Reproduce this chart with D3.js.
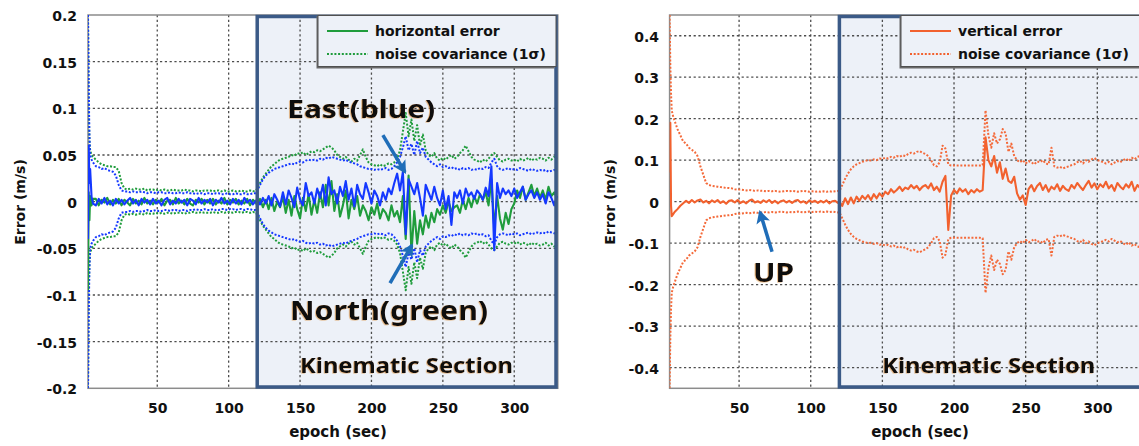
<!DOCTYPE html>
<html><head><meta charset="utf-8">
<script src="https://cdn.jsdelivr.net/npm/d3@7"></script>
<style>
body{margin:0;background:#fff;}
svg{display:block;}
.tk text{font-family:"DejaVu Sans",Verdana,sans-serif;font-weight:bold;font-size:14px;fill:#111;}
.lbl{font-family:"DejaVu Sans",Verdana,sans-serif;font-weight:bold;fill:#111;}
.ann{font-family:"Noto Sans","Open Sans",sans-serif;font-weight:bold;fill:#0d0d0d;}
</style></head><body>
<svg id="c" width="1139" height="446"></svg>
<script>
// ---------- data ----------
const epochs = [1.5,2,2.5,3,4,5,
 7,9,11,13,15,17,19,21,23,25,
 27,29,31,33,35,37,39,41,43,45,
 47,49,51,53,55,57,59,61,63,65,
 67,69,71,73,75,77,79,81,83,85,
 87,89,91,93,95,97,99,101,103,105,
 107,109,111,113,115,117,119,
 120,122,124,126,128,130,132,134,136,138,
 140,142,144,146,148,150,152,154,156,158,
 160,162,164,166,168,170,172,174,176,178,
 180,182,184,186,188,190,192,194,196,198,
 200,202,204,206,208,210,212,214,216,218,
 220,222,224,226,228,230,232,234,236,238,
 240,242,244,246,248,250,252,254,256,258,
 260,262,264,266,268,270,272,274,276,278,
 280,282,284,286,288,290,292,294,296,298,
 300,302,304,306,308,310,312,314,316,318,
 320,322,324,326,328,330];

// East (blue) horizontal error, m/s
const eastError = [-.040,.060,.020,.035,.005,-.002,
 -.004,.003,-.002,.004,-.003,.001,-.004,.003,-.002,.002,
 -.003,.001,.004,-.002,.002,-.004,.003,-.001,.002,-.003,
 .003,-.002,.001,-.004,.002,.004,-.003,.001,-.002,.003,
 -.001,.002,-.004,.003,.001,-.003,.004,-.002,.002,-.001,
 .003,-.004,.002,-.001,.004,-.002,.001,-.003,.003,-.002,
 .002,-.003,.004,-.001,.002,-.003,.001,
 .002,-.003,.004,-.002,.006,-.004,.008,.002,-.005,.010,
 -.003,.012,.004,-.006,.015,.002,-.004,.020,.006,.010,
 -.002,.014,.004,.018,-.004,.026,.008,.012,-.002,.016,
 .006,.022,.002,.014,-.005,.018,.008,.003,.020,.010,
 -.002,.012,.006,-.004,.010,.002,.014,.008,.020,.030,
 .012,.032,-.035,.024,.016,.008,.020,.004,-.015,.018,
 .010,.002,.016,.004,-.004,.012,-.008,.006,-.025,.010,
 .004,.012,-.002,.014,.006,.010,.003,.012,.008,.002,
 .015,.006,.038,-.052,.020,.004,.014,.008,.012,.006,
 .014,.004,.010,.016,.002,.008,.012,.004,.010,.002,
 .008,-.002,.010,.004,-.004,.006];

// North (green) horizontal error, m/s
const northError = [-.095,.010,-.020,.006,-.004,.003,
 .003,-.004,.002,-.001,.004,-.003,.002,-.002,.003,-.004,
 .002,-.001,-.004,.003,-.002,.001,-.003,.004,-.002,.001,
 -.003,.002,-.001,.003,-.004,.001,.002,-.003,.004,-.002,
 .001,-.003,.003,-.002,-.004,.002,-.001,.003,-.003,.002,
 -.002,.003,-.003,.001,-.002,.004,-.003,.002,-.001,.003,
 -.003,.001,-.002,.003,-.004,.002,-.001,
 -.004,.003,-.006,.002,-.008,.004,-.010,.000,-.006,.005,
 -.012,.002,-.015,.006,-.008,-.018,.004,-.010,.008,-.014,
 .002,-.012,.010,-.006,.018,-.004,.022,-.010,.008,-.016,
 -.004,.012,-.018,.002,-.008,.006,-.015,-.004,-.010,-.020,
 -.006,-.014,-.002,-.018,-.008,-.012,-.020,-.004,-.016,-.010,
 -.022,.006,-.040,.028,-.055,-.010,-.045,-.020,-.035,-.015,
 -.028,-.012,-.022,-.008,-.014,-.004,-.012,.000,-.010,-.006,
 -.004,-.012,.002,-.008,.004,-.006,.006,-.002,.008,.002,
 .010,-.004,.024,-.028,.006,-.018,-.030,-.012,-.024,-.008,
 -.002,.012,.004,.016,.002,.010,.018,.006,.014,.004,
 .012,.002,.016,.006,.010,.004];

// East (blue) noise covariance 1-sigma, m/s
const eastSigma = [.200,.120,.070,.050,.045,.042,
 .038,.037,.035,.036,.034,.033,.032,.028,.018,.012,
 .011,.011,.010,.011,.010,.010,.011,.010,.009,.010,
 .010,.009,.010,.010,.009,.009,.010,.009,.009,.010,
 .009,.009,.010,.009,.009,.008,.009,.009,.008,.009,
 .009,.008,.009,.009,.008,.008,.009,.008,.008,.009,
 .008,.008,.009,.008,.008,.009,.009,
 .012,.018,.024,.028,.031,.033,.035,.036,.037,.038,
 .039,.040,.041,.040,.042,.043,.042,.044,.045,.044,
 .045,.044,.046,.045,.047,.046,.048,.047,.046,.045,
 .044,.045,.043,.042,.041,.040,.038,.037,.036,.035,
 .035,.034,.035,.034,.035,.036,.034,.035,.038,.042,
 .048,.058,.070,.055,.062,.050,.065,.052,.058,.048,
 .045,.042,.040,.038,.040,.037,.038,.036,.037,.035,
 .036,.034,.036,.035,.036,.034,.035,.034,.036,.035,
 .037,.036,.042,.046,.038,.035,.034,.035,.036,.034,
 .035,.034,.036,.035,.034,.033,.035,.034,.033,.034,
 .033,.034,.032,.033,.034,.032];

// North (green) noise covariance 1-sigma, m/s
const northSigma = [.200,.100,.065,.055,.050,.048,
 .045,.042,.040,.039,.038,.038,.037,.037,.033,.020,
 .014,.013,.014,.013,.014,.013,.013,.014,.012,.013,
 .013,.012,.013,.012,.013,.012,.012,.013,.012,.012,
 .012,.013,.012,.012,.011,.012,.012,.011,.012,.012,
 .012,.011,.012,.012,.011,.012,.011,.011,.012,.011,
 .011,.012,.011,.011,.012,.011,.012,
 .014,.020,.026,.030,.034,.038,.040,.043,.045,.046,
 .047,.048,.050,.049,.052,.051,.053,.050,.052,.054,
 .053,.055,.054,.056,.058,.060,.058,.055,.050,.048,
 .046,.048,.045,.043,.046,.044,.050,.056,.048,.042,
 .040,.039,.038,.040,.038,.039,.041,.040,.042,.046,
 .055,.075,.095,.070,.088,.065,.082,.060,.072,.055,
 .050,.048,.052,.046,.044,.047,.045,.048,.050,.046,
 .048,.052,.055,.060,.054,.048,.045,.044,.042,.045,
 .043,.046,.050,.052,.048,.044,.043,.045,.046,.044,
 .045,.043,.046,.044,.045,.047,.044,.046,.045,.047,
 .046,.044,.047,.045,.048,.046];

// Up vertical error, m/s
const vertError = [.070,.190,-.010,-.035,-.030,-.025,
 -.018,-.010,-.004,.002,-.003,.004,-.002,.003,.005,-.002,
 .002,-.004,.003,-.001,.004,-.003,.001,-.005,.002,.003,
 -.002,.004,-.003,.001,-.004,.002,.005,-.002,.001,-.003,
 .003,-.001,.004,-.003,.002,-.004,.001,.003,-.002,.002,
 -.003,.002,.004,-.002,.001,-.004,.003,-.001,.002,-.003,
 .002,-.002,.003,-.004,.001,.002,-.003,
 .000,-.010,.008,-.006,.010,-.004,.012,.002,.014,.006,
 .016,.004,.018,.008,.020,.012,.024,.018,.030,.022,
 .028,.036,.026,.034,.030,.040,.032,.038,.028,.036,
 .040,.032,.044,.028,.036,.024,.048,.062,-.068,.015,
 .028,.020,.032,.024,.030,.018,.028,.022,.030,.024,
 .028,.155,.100,.085,.110,.070,.095,.055,.080,.050,
 .045,.060,.020,.005,.015,-.008,.030,.040,.025,.038,
 .045,.028,.040,.024,.036,.030,.042,.026,.038,.030,
 .026,.040,.032,.045,.036,.028,.040,.050,.034,.044,
 .030,.042,.035,.048,.032,.040,.026,.045,.036,.030,
 .042,.034,.048,.026,.040,.032];

// Up noise covariance 1-sigma, m/s
const vertSigma = [.450,.330,.260,.220,.205,.195,
 .175,.160,.145,.140,.130,.125,.120,.110,.085,.065,
 .045,.040,.038,.037,.036,.035,.034,.033,.033,.032,
 .030,.029,.029,.028,.027,.028,.027,.026,.027,.026,
 .026,.025,.026,.025,.026,.025,.024,.025,.026,.025,
 .026,.025,.024,.025,.026,.025,.024,.025,.024,.025,
 .024,.025,.024,.025,.024,.025,.026,
 .025,.040,.055,.068,.078,.085,.090,.093,.096,.098,
 .100,.099,.102,.100,.104,.103,.106,.104,.108,.106,
 .110,.108,.112,.110,.115,.118,.116,.120,.122,.118,
 .115,.110,.100,.088,.085,.095,.135,.128,.090,.087,
 .087,.087,.087,.087,.087,.087,.087,.087,.087,.087,
 .088,.220,.160,.130,.165,.140,.150,.175,.165,.120,
 .140,.110,.100,.095,.100,.092,.098,.095,.090,.097,
 .095,.100,.092,.090,.130,.085,.082,.084,.080,.083,
 .085,.088,.090,.095,.098,.092,.100,.096,.102,.105,
 .100,.098,.095,.092,.096,.090,.094,.098,.095,.100,
 .104,.098,.106,.102,.108,.110];

const xTicks = [50,100,150,200,250,300];
const yTicksH = [0.2,0.15,0.1,0.05,0,-0.05,-0.1,-0.15,-0.2];
const yLabelsH = ["0.2","0.15","0.1","0.05","0","-0.05","-0.1","-0.15","-0.2"];
const yTicksV = [0.4,0.3,0.2,0.1,0,-0.1,-0.2,-0.3,-0.4];
const yLabelsV = ["0.4","0.3","0.2","0.1","0","-0.1","-0.2","-0.3","-0.4"];
const kinematicStart = 120;
const legendH = ["horizontal error","noise covariance (1\u03c3)"];
const legendV = ["vertical error","noise covariance (1\u03c3)"];
const xTitle = "epoch (sec)";
const yTitle = "Error (m/s)";

// ---------- drawing ----------
const svg = d3.select("#c");
const defs = svg.append("defs");
const flt = defs.append("filter").attr("id","fringe").attr("x","-10%").attr("y","-30%").attr("width","120%").attr("height","160%");
flt.append("feDropShadow").attr("dx",-0.9).attr("dy",0.6).attr("stdDeviation",0.4)
  .attr("flood-color","#d8862a").attr("flood-opacity",0.55);
const mk = defs.append("marker").attr("id","ah").attr("markerUnits","userSpaceOnUse")
  .attr("markerWidth",16).attr("markerHeight",16).attr("refX",11).attr("refY",7)
  .attr("orient","auto").attr("viewBox","0 0 16 14");
mk.append("path").attr("d","M0,0 L13,7 L0,14 L3,7 Z").attr("fill","#1f6db8");

const GREEN="#1f9c3c", BLUE="#1438ff", ORANGE="#f2612e", BOXC="#3b5a87", FILL="#edf1f8";

function panel(o){
  const g = svg.append("g");
  const x = d3.scaleLinear().domain([1.5,330.5]).range([o.x0,o.x1]);
  const y = d3.scaleLinear().domain(o.yDom).range([388.3,15]);
  const cid = "clip"+o.id;
  defs.append("clipPath").attr("id",cid).append("rect")
    .attr("x",o.x0).attr("y",15).attr("width",o.x1-o.x0).attr("height",373.3);

  // kinematic fill
  g.append("rect").attr("x",x(kinematicStart)).attr("y",y.range()[1])
    .attr("width",o.x1-x(kinematicStart)).attr("height",y.range()[0]-y.range()[1]).attr("fill",FILL);

  // grid
  const grid = g.append("g").attr("stroke","#4d4d4d").attr("stroke-width",1.3).attr("stroke-dasharray","2.2,2.6");
  grid.selectAll("line.v").data(xTicks).join("line").attr("class","v")
    .attr("x1",d=>x(d)).attr("x2",d=>x(d)).attr("y1",15).attr("y2",388.3);
  grid.selectAll("line.h").data(o.yTicks.filter(d=>y(d)>17&&y(d)<386)).join("line").attr("class","h")
    .attr("x1",o.x0).attr("x2",o.x1).attr("y1",d=>y(d)).attr("y2",d=>y(d));

  // frame
  g.append("rect").attr("x",o.x0).attr("y",15).attr("width",o.x1-o.x0).attr("height",373.3)
    .attr("fill","none").attr("stroke","#8c8c8c").attr("stroke-width",1.5);

  // data
  const dg = g.append("g").attr("clip-path",`url(#${cid})`);
  const line = d3.line().x((d,i)=>x(epochs[i])).y(d=>y(d));
  o.series.forEach(s=>{
    const vals = s.neg ? s.data.map(v=>-v) : s.data;
    dg.append("path").datum(vals).attr("d",line).attr("fill","none")
      .attr("stroke",s.color).attr("stroke-width",s.dot?2:2.1)
      .attr("stroke-dasharray",s.dot?"2,1.7":null).attr("stroke-linejoin","round");
  });

  // kinematic box border
  g.append("rect").attr("x",x(kinematicStart)).attr("y",16.5)
    .attr("width",o.boxR-x(kinematicStart)).attr("height",370.5)
    .attr("fill","none").attr("stroke",BOXC).attr("stroke-width",3.5);

  // axes
  const ax = g.append("g").attr("class","tk").attr("transform","translate(0,388.3)")
    .call(d3.axisBottom(x).tickValues(xTicks).tickSize(0).tickPadding(15));
  ax.select(".domain").remove();
  const ay = g.append("g").attr("class","tk").attr("transform",`translate(${o.x0},0)`)
    .call(d3.axisLeft(y).tickValues(o.yTicks).tickSize(0).tickPadding(o.pad)
      .tickFormat((d,i)=>o.yLabels[i]));
  ay.select(".domain").remove();
  ay.selectAll("text").attr("dy","0.4em");

  // titles
  g.append("text").attr("class","lbl").attr("x",o.xt).attr("y",437).attr("text-anchor","middle")
    .attr("font-size",15).text(xTitle);
  g.append("text").attr("class","lbl").attr("transform",`translate(${o.yt},202) rotate(-90)`)
    .attr("text-anchor","middle").attr("font-size",14).text(yTitle);

  // legend
  const lg = g.append("g");
  lg.append("rect").attr("x",o.lx-1.5).attr("y",16).attr("width",o.lw).attr("height",52.5).attr("fill","#6a6a6a");
  lg.append("rect").attr("x",o.lx).attr("y",15.5).attr("width",o.lw).attr("height",51)
    .attr("fill",FILL).attr("stroke","#505050").attr("stroke-width",1);
  const lrows = [{dot:false,y:31},{dot:true,y:54}];
  lg.selectAll("line.l").data(lrows).join("line").attr("class","l")
    .attr("x1",o.lx+9).attr("x2",o.lx+50).attr("y1",d=>d.y).attr("y2",d=>d.y)
    .attr("stroke",o.lcolor).attr("stroke-width",2).attr("stroke-dasharray",d=>d.dot?"2,1.7":null);
  lg.selectAll("text").data(o.legend).join("text").attr("class","lbl").attr("font-size",14)
    .attr("x",o.lx+57).attr("y",(d,i)=>lrows[i].y+5).text(d=>d);

  // annotations
  const an = g.append("g");
  o.arrows.forEach(a=>{
    an.append("line").attr("x1",x(a.e0)).attr("y1",y(a.v0)).attr("x2",x(a.e1)).attr("y2",y(a.v1))
      .attr("stroke","#1f6db8").attr("stroke-width",3.5).attr("marker-end","url(#ah)");
  });
  o.notes.forEach(n=>{
    an.append("text").attr("class","ann").attr("x",x(n.e)).attr("y",y(n.v)).attr("font-size",n.size)
      .attr("textLength",n.w).attr("lengthAdjust","spacingAndGlyphs").attr("filter","url(#fringe)").text(n.t);
  });
  return {x,y};
}

panel({id:"h", x0:88, x1:557.8, boxR:556, yDom:[-0.2,0.2], yTicks:yTicksH, yLabels:yLabelsH, pad:11,
  xt:338, yt:25, lx:318, lw:238, lcolor:GREEN, legend:legendH,
  series:[
    {data:northSigma,color:GREEN,dot:true},{data:northSigma,color:GREEN,dot:true,neg:true},
    {data:eastSigma,color:BLUE,dot:true},{data:eastSigma,color:BLUE,dot:true,neg:true},
    {data:northError,color:GREEN},{data:eastError,color:BLUE}],
  arrows:[{e0:208,v0:0.0713,e1:223.5,v1:0.0316},{e0:213,v0:-0.0874,e1:228.3,v1:-0.0466}],
  notes:[{t:"East(blue)",e:141,v:0.0895,size:25,w:148},
         {t:"North(green)",e:143,v:-0.127,size:26,w:198},
         {t:"Kinematic Section",e:150,v:-0.184,size:22,w:213}]
});

panel({id:"v", x0:669.6, x1:1141, boxR:1150, yDom:[-0.45,0.45], yTicks:yTicksV, yLabels:yLabelsV, pad:10.6,
  xt:920, yt:615, lx:901, lw:250, lcolor:ORANGE, legend:legendV,
  series:[
    {data:vertSigma,color:"#f46a3a",dot:true},{data:vertSigma,color:"#f46a3a",dot:true,neg:true},
    {data:vertError,color:ORANGE}],
  arrows:[{e0:73,v0:-0.121,e1:64.6,v1:-0.025}],
  notes:[{t:"UP",e:59.7,v:-0.193,size:27,w:41},
         {t:"Kinematic Section",e:149.9,v:-0.413,size:22,w:213}]
});
</script>
</body></html>
